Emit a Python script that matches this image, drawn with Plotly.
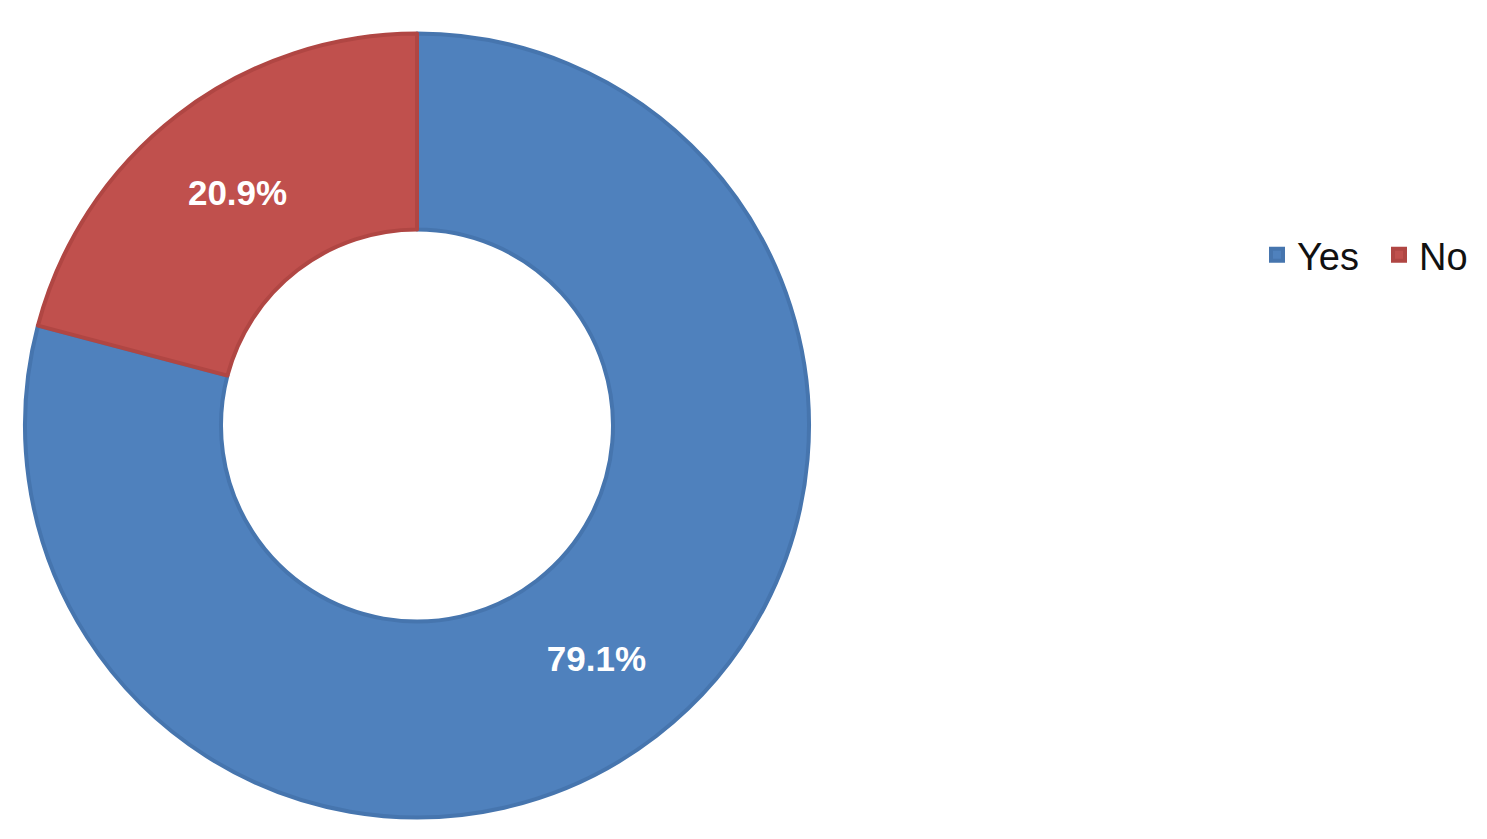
import plotly.graph_objects as go

# ── Data ─────────────────────────────────────────────
labels = ["Yes", "No"]
shares = [79.1, 20.9]
fill_colors = ["#4F81BD", "#C0504D"]
edge_colors = ["#4675AE", "#B04643"]

W, H = 1487, 839

fig = go.Figure()

fig.add_trace(go.Pie(
    labels=labels,
    values=shares,
    hole=0.5,
    sort=False,
    direction="clockwise",
    rotation=0,
    marker=dict(colors=fill_colors, line=dict(color=edge_colors, width=4)),
    texttemplate="%{percent:.1%}",
    textposition="inside",
    insidetextorientation="horizontal",
    textfont=dict(family="Liberation Sans", size=35, color="white", weight="bold"),
    domain=dict(x=[17 / W, 801 / W], y=[24 / H, 819 / H]),
    hoverinfo="label+percent",
))

fig.update_layout(
    width=W,
    height=H,
    margin=dict(l=0, r=0, t=0, b=0, autoexpand=False),
    paper_bgcolor="white",
    plot_bgcolor="white",
    showlegend=True,
    legend=dict(
        orientation="h",
        x=1249 / W,
        xanchor="left",
        y=1 - 247 / H,
        yanchor="middle",
        font=dict(family="Liberation Sans", size=38, color="#111111"),
        entrywidth=77,
        traceorder="normal",
    ),
)

fig.write_html("out.html")
